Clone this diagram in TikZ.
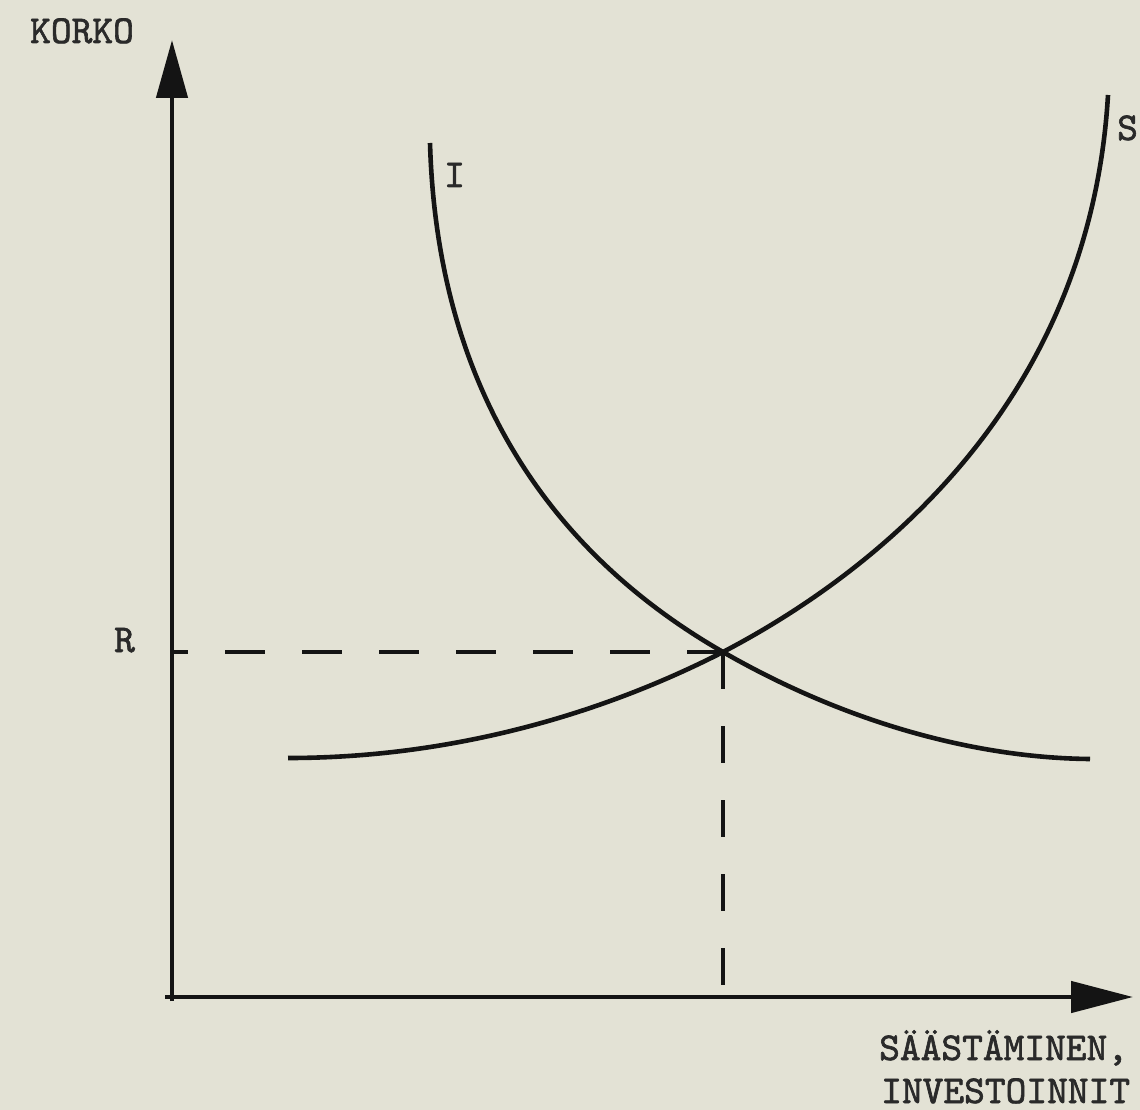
\documentclass[tikz,border=0pt]{standalone}
\usepackage{fontspec}
\newfontfamily\twfont{lmmono10-regular.otf}[FakeBold=1.6]
\usetikzlibrary{arrows.meta}
\definecolor{paper}{HTML}{E3E2D5}
\definecolor{ink}{HTML}{141414}
\definecolor{txt}{HTML}{2A2A2A}
\begin{document}
\begin{tikzpicture}[x=1pt,y=-1pt,
  axis/.style={line width=4.6pt,draw=ink},
  curve/.style={line width=4.6pt,draw=ink},
  guide/.style={line width=4.6pt,draw=ink},
  lbl/.style={inner sep=0pt,anchor=base west,text=txt,font=\fontsize{39.5}{46}\selectfont\twfont}]
\fill[paper] (0,0) rectangle (1140,1110);
\useasboundingbox (0,0) rectangle (1140,1110);
% coordinates
\coordinate (O) at (172,997);
\coordinate (ytop) at (172,40);
\coordinate (ybot) at (172,1001);
\coordinate (xleft) at (165,997);
\coordinate (xright) at (1133,997);
\coordinate (E) at (723,652);
\coordinate (Ry) at (172,652);
\coordinate (Ex) at (723,997);
\coordinate (Itop) at (430,143);
\coordinate (Iend) at (1090,759);
\coordinate (Sstart) at (288,758);
\coordinate (Stop) at (1108,95);
% axes
\draw[axis,-{Triangle[length=58pt,width=31pt]}] (ybot) -- (ytop);
\draw[axis,-{Triangle[length=62pt,width=31pt]}] (xleft) -- (xright);
% guides
\draw[guide,dash pattern=on 40pt off 37pt,dash phase=24pt] (Ry) -- (E);
\draw[guide,dash pattern=on 37pt off 37pt] (E) -- (Ex);
% curves
\draw[curve] (Itop) .. controls (438,420) and (580,570) .. (E)
  .. controls (850,725) and (980,758) .. (Iend);
\draw[curve] (Sstart) .. controls (450,758) and (600,715) .. (E)
  .. controls (880,570) and (1090,400) .. (Stop);
% labels
\node[lbl] (korko) at (30,43) {KORKO};
\node[lbl] (r) at (114,652) {R};
\node[lbl] (i) at (444,187) {I};
\node[lbl] (s) at (1117,140) {S};
\node[lbl] (saa) at (879,1060) {SÄÄSTÄMINEN,};
\node[lbl] (inv) at (881,1103) {INVESTOINNIT};
\end{tikzpicture}
\end{document}
